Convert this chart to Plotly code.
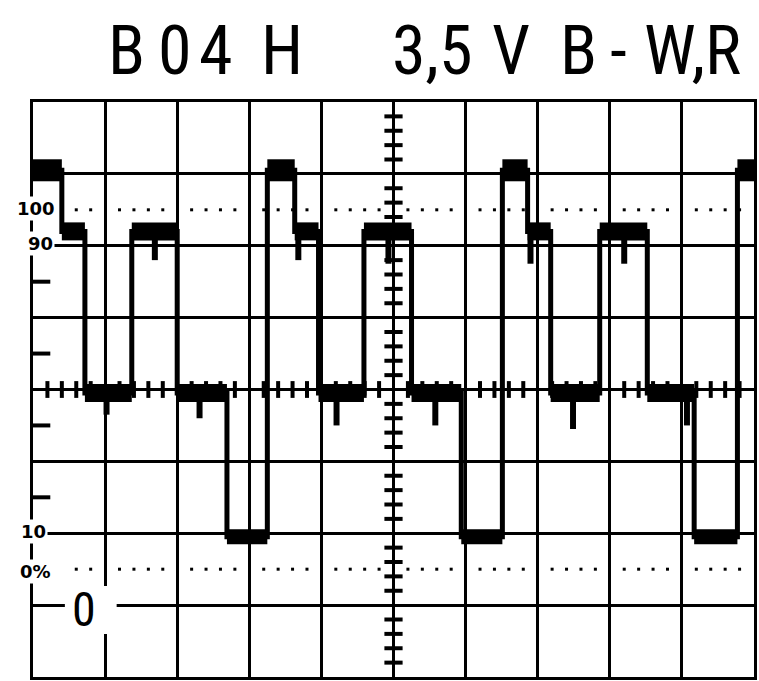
import numpy as np
import plotly.graph_objects as go

# Horizontal position in screen divisions (0..10), amplitude in percent of the
# 0 %..100 % span marked on the graticule (0 % sits 1.5 div above the bottom edge).
edge_div = [0.00, 0.40, 0.72, 1.37, 2.00, 2.69, 3.25, 3.63, 3.96, 4.59,
            5.25, 5.94, 6.51, 6.86, 7.18, 7.86, 8.52, 9.17, 9.77, 10.00]
level_pct = [111, 94, 49, 94, 49, 9, 111, 94, 49, 94,
             49, 9, 111, 94, 49, 94, 49, 9, 111]

# short dips hanging below the plateaus
glitch_div = [1.02, 1.69, 2.31, 3.68, 4.21, 4.93, 5.58, 6.90, 7.49, 8.20, 9.07]
glitch_from = [49, 94, 49, 94, 49, 94, 49, 94, 49, 94, 49]
glitch_to = [43, 86, 42, 86, 40, 85, 40, 85, 39, 85, 40]

scale_labels = ["100", "90", "10", "0%"]
scale_pct = [100, 90, 10, 0]
ground_label = "0"
ground_pct = -10

title_tokens = ["B", "0", "4", "H", "3,5", "V", "B", "-", "W,R"]

W, H = 759, 681
L, R, T, B = 33, 2, 102, 4
PW, PH = W - L - R, H - T - B
NARROW = "Noto Sans Condensed, Roboto Condensed, Roboto, sans-serif"


def px_x(px):
    return (px - L) / PW


def px_y(py):
    return (H - B - py) / PH


fig = go.Figure()

# graticule extras: minor ticks on the centre lines, dotted 0 % / 100 % lines
minor = np.round(np.arange(0.2, 10.0, 0.2), 2)
minor = minor[np.abs(minor - np.round(minor)) > 1e-6]
fig.add_trace(go.Scatter(
    x=minor, y=[50] * len(minor), mode="markers", hoverinfo="skip",
    marker=dict(symbol="line-ns", size=12, line=dict(width=4, color="black"))))
vminor = np.round(np.arange(-30 + 4, 130, 4), 2)
vminor = vminor[np.abs(((vminor + 30) / 20) - np.round((vminor + 30) / 20)) > 1e-6]
fig.add_trace(go.Scatter(
    x=[5] * len(vminor), y=vminor, mode="markers", hoverinfo="skip",
    marker=dict(symbol="line-ew", size=13, line=dict(width=4, color="black"))))
for lvl in (100, 0):
    fig.add_trace(go.Scatter(
        x=minor[minor > 0.5], y=[lvl] * int((minor > 0.5).sum()),
        mode="markers", hoverinfo="skip",
        marker=dict(symbol="square", size=3, color="black")))
for lvl in (80, 60, 40, 20):
    fig.add_shape(type="line", xref="x", yref="y", x0=0, x1=0.24, y0=lvl, y1=lvl,
                  line=dict(color="black", width=4), layer="below")

# the waveform: thin edges plus heavy, smeared plateaus
step_x = edge_div
step_y = level_pct + [level_pct[-1]]
fig.add_trace(go.Scatter(x=step_x, y=step_y, mode="lines", line_shape="hv",
                         line=dict(color="black", width=5), hoverinfo="skip"))

thick = {111: 22, 94: 18, 49: 18, 9: 15}
for lvl, w in thick.items():
    xs, ys = [], []
    for i, v in enumerate(level_pct):
        if v == lvl:
            xs += [edge_div[i], edge_div[i + 1], None]
            ys += [v, v, None]
    fig.add_trace(go.Scatter(x=xs, y=ys, mode="lines",
                             line=dict(color="black", width=w), hoverinfo="skip"))

gx, gy = [], []
for x, a, b in zip(glitch_div, glitch_from, glitch_to):
    gx += [x, x, None]
    gy += [a, b, None]
fig.add_trace(go.Scatter(x=gx, y=gy, mode="lines",
                         line=dict(color="black", width=6), hoverinfo="skip"))

# scale labels on the left edge
label_pos = {"100": (36, 208), "90": (41, 243), "10": (33, 531), "0%": (36, 571)}
for txt, pct in zip(scale_labels, scale_pct):
    cx, cy = label_pos[txt]
    fig.add_annotation(x=px_x(cx), y=px_y(cy), xref="paper", yref="paper",
                       xanchor="center", yanchor="middle",
                       text=txt, showarrow=False, bgcolor="white", borderpad=1,
                       font=dict(family="DejaVu Sans", size=18, color="black",
                                 weight="bold"))

# ground reference mark
fig.add_shape(type="rect", xref="paper", yref="paper",
              x0=px_x(65), x1=px_x(117), y0=px_y(634), y1=px_y(586),
              fillcolor="white", line=dict(width=0), layer="above")
fig.add_annotation(x=px_x(84), y=px_y(609), xref="paper", yref="paper",
                   xanchor="center", yanchor="middle",
                   text=ground_label, showarrow=False,
                   font=dict(family=NARROW, size=48, color="black"))

# heading, set piece by piece to keep the wide lettering
title_x = [127, 176, 217, 283, 434, 513, 581, 621, 695]
for tok, cx in zip(title_tokens, title_x):
    fig.add_annotation(x=px_x(cx), y=px_y(51), xref="paper", yref="paper",
                       xanchor="center", yanchor="middle",
                       text=tok, showarrow=False,
                       font=dict(family=NARROW, size=68, color="black"))

axis_common = dict(showgrid=True, gridcolor="black", gridwidth=3, zeroline=False,
                   showline=True, linecolor="black", linewidth=3, mirror=True,
                   showticklabels=False, ticks="", layer="below traces",
                   fixedrange=True)
fig.update_xaxes(range=[0, 10], tick0=0, dtick=1, **axis_common)
fig.update_yaxes(range=[-30, 130], tick0=-30, dtick=20, **axis_common)

fig.update_layout(width=W, height=H, margin=dict(l=L, r=R, t=T, b=B),
                  paper_bgcolor="white", plot_bgcolor="white", showlegend=False)

fig.write_html("out.html")
